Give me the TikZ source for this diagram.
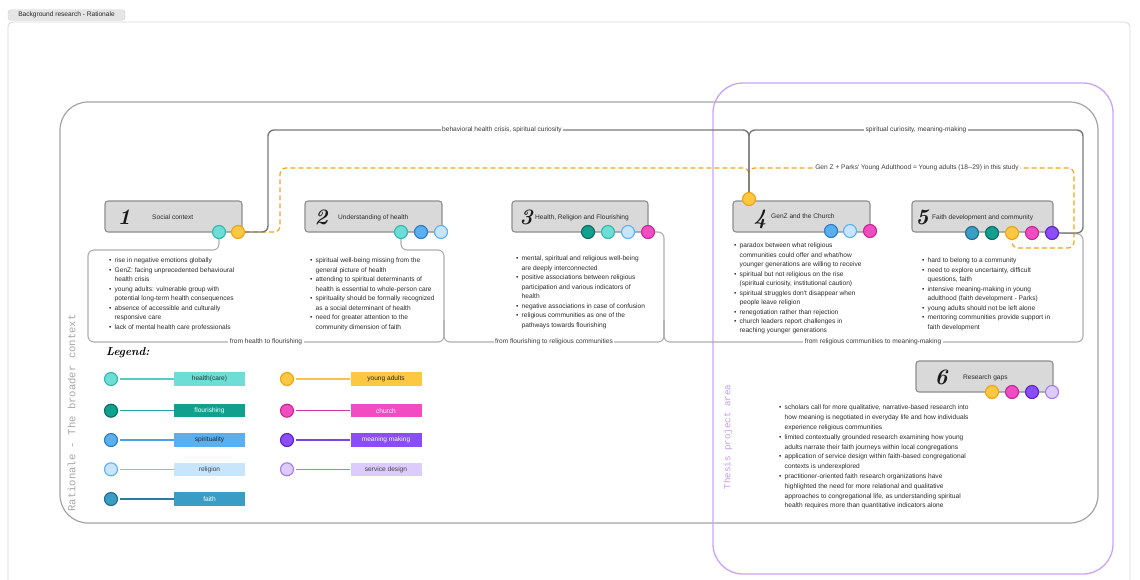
\documentclass[tikz,border=0pt]{standalone}
\usepackage{fontspec}
\newfontfamily\sansf{Liberation Sans}
\newfontfamily\monof{Liberation Mono}
\usetikzlibrary{backgrounds}
\definecolor{boxfill}{HTML}{D9D9D9}
\definecolor{boxline}{HTML}{8E8E8E}
\definecolor{txt}{HTML}{2A2A2A}
\definecolor{labtxt}{HTML}{3A3A3A}
\definecolor{darkline}{HTML}{7A7A7A}
\definecolor{lightline}{HTML}{ADADAD}
\definecolor{framegray}{HTML}{A3A3A3}
\definecolor{canvasline}{HTML}{D6D6D6}
\definecolor{purp}{HTML}{CBA3F4}
\definecolor{yadash}{HTML}{EFA718}
% circle colours: f = fill, l = line, ln = legend line
\definecolor{hcf}{HTML}{6EDDD6}\definecolor{hcl}{HTML}{2FB8AC}\definecolor{hcln}{HTML}{5CC9BF}
\definecolor{flf}{HTML}{12A08E}\definecolor{fll}{HTML}{0B6A5E}\definecolor{flln}{HTML}{26A597}
\definecolor{spf}{HTML}{5AAFEF}\definecolor{spl}{HTML}{2A7AC4}\definecolor{spln}{HTML}{4AA3E6}
\definecolor{ref}{HTML}{C8E5FC}\definecolor{rel}{HTML}{5AB0F5}\definecolor{reln}{HTML}{7CC0F5}
\definecolor{faf}{HTML}{3A9DC5}\definecolor{fal}{HTML}{24698A}\definecolor{faln}{HTML}{2D7A9C}
\definecolor{yaf}{HTML}{FDC841}\definecolor{yal}{HTML}{EDA315}\definecolor{yaln}{HTML}{F5C24A}
\definecolor{chf}{HTML}{F24CC3}\definecolor{chl}{HTML}{C22892}\definecolor{chln}{HTML}{C93AA2}
\definecolor{mmf}{HTML}{8A4DF7}\definecolor{mml}{HTML}{5B22C4}\definecolor{mmln}{HTML}{7B45E0}
\definecolor{sdf}{HTML}{DCCCFB}\definecolor{sdl}{HTML}{A877F2}\definecolor{sdln}{HTML}{A77CF0}
\newcommand\mybul{\makebox[5.5pt][l]{•}}
\newcommand\myind{\hspace*{5.5pt}}
\begin{document}
\begin{tikzpicture}[x=1pt,y=-1pt,
  box/.style={draw=boxline, fill=boxfill, line width=1.1pt, rounded corners=3pt, minimum height=31pt, inner sep=0pt},
  dot/.style={circle, draw=#1l, fill=#1f, line width=1.1pt, minimum size=13pt, inner sep=0pt},
  bul/.style={font=\sansf\fontsize{6.6}{9.45}\selectfont, align=left, anchor=north west, inner sep=0pt, text=txt},
  ttl/.style={font=\sansf\fontsize{6.6}{8}\selectfont, anchor=base west, inner sep=0pt, text=txt},
  num/.style={font=\rmfamily\bfseries\itshape\fontsize{22}{22}\selectfont, anchor=base, inner sep=0pt, text=black!90},
  lab/.style={fill=white, font=\sansf\fontsize{6.6}{8}\selectfont, text=labtxt, inner sep=1.5pt},
  darkc/.style={draw=darkline, line width=1.4pt, rounded corners=6pt},
  dashc/.style={draw=yadash, line width=1.2pt, dash pattern=on 5pt off 3pt, rounded corners=6pt},
  lightc/.style={draw=lightline, line width=1.1pt, rounded corners=6pt},
  legbox/.style={minimum width=71pt, minimum height=13.5pt, inner sep=0pt, font=\sansf\fontsize{6.6}{8}\selectfont},
  legline/.style={line width=1.1pt, shorten <=2pt}
]
\useasboundingbox (0,0) rectangle (1140,579);
\clip (0,0) rectangle (1140,579);

% ---------- boxes ----------
\node[box, minimum width=137pt] (b1) at (173.5,216.5) {};
\node[box, minimum width=137pt] (b2) at (373.5,216.5) {};
\node[box, minimum width=136pt] (b3) at (580,216.5) {};
\node[box, minimum width=137pt] (b4) at (801.5,216.5) {};
\node[box, minimum width=141pt] (b5) at (982.5,216.5) {};
\node[box, minimum width=137pt] (b6) at (984.5,376.5) {};

\node[num] (n1) at (124,224.5) {1};
\node[num] (n2) at (321,224.5) {2};
\node[num] (n3) at (526,224.5) {3};
\node[num] (n4) at (760,224.5) {4};
\node[num] (n5) at (922,224.5) {5};
\node[num] (n6) at (941,384) {6};

\node[ttl] (t1) at (152,219.5) {Social context};
\node[ttl] (t2) at (338,219.5) {Understanding of health};
\node[ttl] (t3) at (535,219.5) {Health, Religion and Flourishing};
\node[ttl] (t4) at (771,218.5) {GenZ and the Church};
\node[ttl] (t5) at (932,219) {Faith development and community};
\node[ttl] (t6) at (963,379) {Research gaps};

% ---------- circles ----------
\node[dot=hc] (c1h) at (219,232) {};
\node[dot=ya] (c1y) at (238,232) {};
\node[dot=hc] (c2h) at (401,232) {};
\node[dot=sp] (c2s) at (421,232) {};
\node[dot=re] (c2r) at (441,232) {};
\node[dot=fl] (c3f) at (588,232) {};
\node[dot=hc] (c3h) at (608,232) {};
\node[dot=re] (c3r) at (628,232) {};
\node[dot=ch] (c3c) at (648,232) {};
\node[dot=ya] (c4y) at (749,199) {};
\node[dot=sp] (c4s) at (831,231) {};
\node[dot=re] (c4r) at (850,231) {};
\node[dot=ch] (c4c) at (870,231) {};
\node[dot=fa] (c5a) at (972,233) {};
\node[dot=fl] (c5f) at (992,233) {};
\node[dot=ya] (c5y) at (1012,233) {};
\node[dot=ch] (c5c) at (1032,233) {};
\node[dot=mm] (c5m) at (1052,233) {};
\node[dot=ya] (c6y) at (992,392) {};
\node[dot=ch] (c6c) at (1012,392) {};
\node[dot=mm] (c6m) at (1032,392) {};
\node[dot=sd] (c6s) at (1052,392) {};

% ---------- bullet texts ----------
\node[bul] (tx1) at (109,257.9) {\mybul rise in negative emotions globally\\
\mybul GenZ: facing unprecedented behavioural\\
\myind health crisis\\
\mybul young adults: vulnerable group with\\
\myind potential long-term health consequences\\
\mybul absence of accessible and culturally\\
\myind responsive care\\
\mybul lack of mental health care professionals};

\node[bul] (tx2) at (310,257.9) {\mybul spiritual well-being missing from the\\
\myind general picture of health\\
\mybul attending to spiritual determinants of\\
\myind health is essential to whole-person care\\
\mybul spirituality should be formally recognized\\
\myind as a social determinant of health\\
\mybul need for greater attention to the\\
\myind community dimension of faith};

\node[bul] (tx3) at (516,255.9) {\mybul mental, spiritual and religious well-being\\
\myind are deeply interconnected\\
\mybul positive associations between religious\\
\myind participation and various indicators of\\
\myind health\\
\mybul negative associations in case of confusion\\
\mybul religious communities as one of the\\
\myind pathways towards flourishing};

\node[bul] (tx4) at (734,242.9) {\mybul paradox between what religious\\
\myind communities could offer and what/how\\
\myind younger generations are willing to receive\\
\mybul spiritual but not religious on the rise\\
\myind (spiritual curiosity, institutional caution)\\
\mybul spiritual struggles don't disappear when\\
\myind people leave religion\\
\mybul renegotiation rather than rejection\\
\mybul church leaders report challenges in\\
\myind reaching younger generations};

\node[bul] (tx5) at (922,257.9) {\mybul hard to belong to a community\\
\mybul need to explore uncertainty, difficult\\
\myind questions, faith\\
\mybul intensive meaning-making in young\\
\myind adulthood (faith development - Parks)\\
\mybul young adults should not be left alone\\
\mybul mentoring communities provide support in\\
\myind faith development};

\node[bul, font=\sansf\fontsize{6.6}{9.8}\selectfont] (tx6) at (779,404.9) {\mybul scholars call for more qualitative, narrative-based research into\\
\myind how meaning is negotiated in everyday life and how individuals\\
\myind experience religious communities\\
\mybul limited contextually grounded research examining how young\\
\myind adults narrate their faith journeys within local congregations\\
\mybul application of service design within faith-based congregational\\
\myind contexts is underexplored\\
\mybul practitioner-oriented faith research organizations have\\
\myind highlighted the need for more relational and qualitative\\
\myind approaches to congregational life, as understanding spiritual\\
\myind health requires more than quantitative indicators alone};

% ---------- legend ----------
\node[font=\rmfamily\bfseries\itshape\fontsize{11.5}{12}\selectfont, anchor=base west, inner sep=0pt] (leg) at (106,355) {Legend:};

\node[dot=hc] (lhc) at (111,379) {};
\node[legbox, fill=hcf, text=black!80] (bhc) at (209.5,379) {health(care)};
\node[dot=fl] (lfl) at (111,410.7) {};
\node[legbox, fill=flf, text=white] (bfl) at (209.5,410.7) {flourishing};
\node[dot=sp] (lsp) at (111,440) {};
\node[legbox, fill=spf, text=black!85] (bsp) at (209.5,440) {spirituality};
\node[dot=re] (lre) at (111,469.3) {};
\node[legbox, fill=ref, text=black!75] (bre) at (209.5,469.3) {religion};
\node[dot=fa] (lfa) at (111,499) {};
\node[legbox, fill=faf, text=white] (bfa) at (209.5,499) {faith};
\node[dot=ya] (lya) at (287,379) {};
\node[legbox, fill=yaf, text=black!85] (bya) at (386,379) {young adults};
\node[dot=ch] (lch) at (287,410.7) {};
\node[legbox, fill=chf, text=white] (bch) at (386,410.7) {church};
\node[dot=mm] (lmm) at (287,440) {};
\node[legbox, fill=mmf, text=white] (bmm) at (386,440) {meaning making};
\node[dot=sd] (lsd) at (287,469.3) {};
\node[legbox, fill=sdf, text=black!75] (bsd) at (386,469.3) {service design};

\draw[legline, draw=hcln] (lhc) -- (bhc);
\draw[legline, draw=flln] (lfl) -- (bfl);
\draw[legline, draw=spln] (lsp) -- (bsp);
\draw[legline, draw=reln] (lre) -- (bre);
\draw[legline, draw=faln] (lfa) -- (bfa);
\draw[legline, draw=yaln] (lya) -- (bya);
\draw[legline, draw=chln] (lch) -- (bch);
\draw[legline, draw=mmln] (lmm) -- (bmm);
\draw[legline, draw=sdln] (lsd) -- (bsd);

% ---------- background: frames and connectors ----------
\begin{scope}[on background layer]
\draw[canvasline, line width=0.8pt, rounded corners=5pt] (8,22) rectangle (1130,640);
\node[draw=black!20, fill=black!10, rounded corners=3pt, minimum width=117pt, minimum height=10.5pt, inner sep=0pt, font=\sansf\fontsize{6.6}{8}\selectfont, text=black!85] (tab) at (66.5,15) {Background research - Rationale};
\draw[framegray, line width=1.2pt, rounded corners=28pt] (60,102) rectangle (1098,523);
\draw[purp, line width=1.3pt, rounded corners=30pt] (713,83) rectangle (1113,574);
\node[rotate=90, font=\monof\fontsize{10.6}{12}\selectfont, text=black!35, inner sep=0pt] (rat) at (71.5,413) {Rationale - The broader context};
\node[rotate=90, font=\monof\fontsize{9.2}{10}\selectfont, text=purp!95!black, inner sep=0pt] (thesis) at (728,437) {Thesis project area};

% light connectors (bottom)
\draw[lightc] (c1h.south) |- (88,250) |- (444,342) -- (444,320);
\draw[lightc] (c2h.south) |- (444,250) |- (664,342) -- (664,320);
\draw[lightc] (c3c.east) -| (664,342) -| (1083,234) -- (c5m.east);
% dashed young-adult connectors
\draw[dashc] (c1y.east) -| (280,168) -| (c4y.north);
\draw[dashc] (c4y.north) |- (1074,168) -- (1074,248) -| (c5y.south);
% dark connectors (top)
\draw[darkc] (c1y.east) -| (268,130) -| (c4y.north);
\draw[darkc] (c4y.north) |- (1083,130) |- (c5m.east);

\node[lab] (l1) at (502,130) {behavioral health crisis, spiritual curiosity};
\node[lab] (l2) at (916,130) {spiritual curiosity, meaning-making};
\node[lab] (l3) at (917,168) {Gen Z + Parks' Young Adulthood = Young adults (18--29) in this study};
\node[lab] (l4) at (266,342) {from health to flourishing};
\node[lab] (l5) at (554,342) {from flourishing to religious communities};
\node[lab] (l6) at (873,342) {from religious communities to meaning-making};
\end{scope}
\end{tikzpicture}
\end{document}
